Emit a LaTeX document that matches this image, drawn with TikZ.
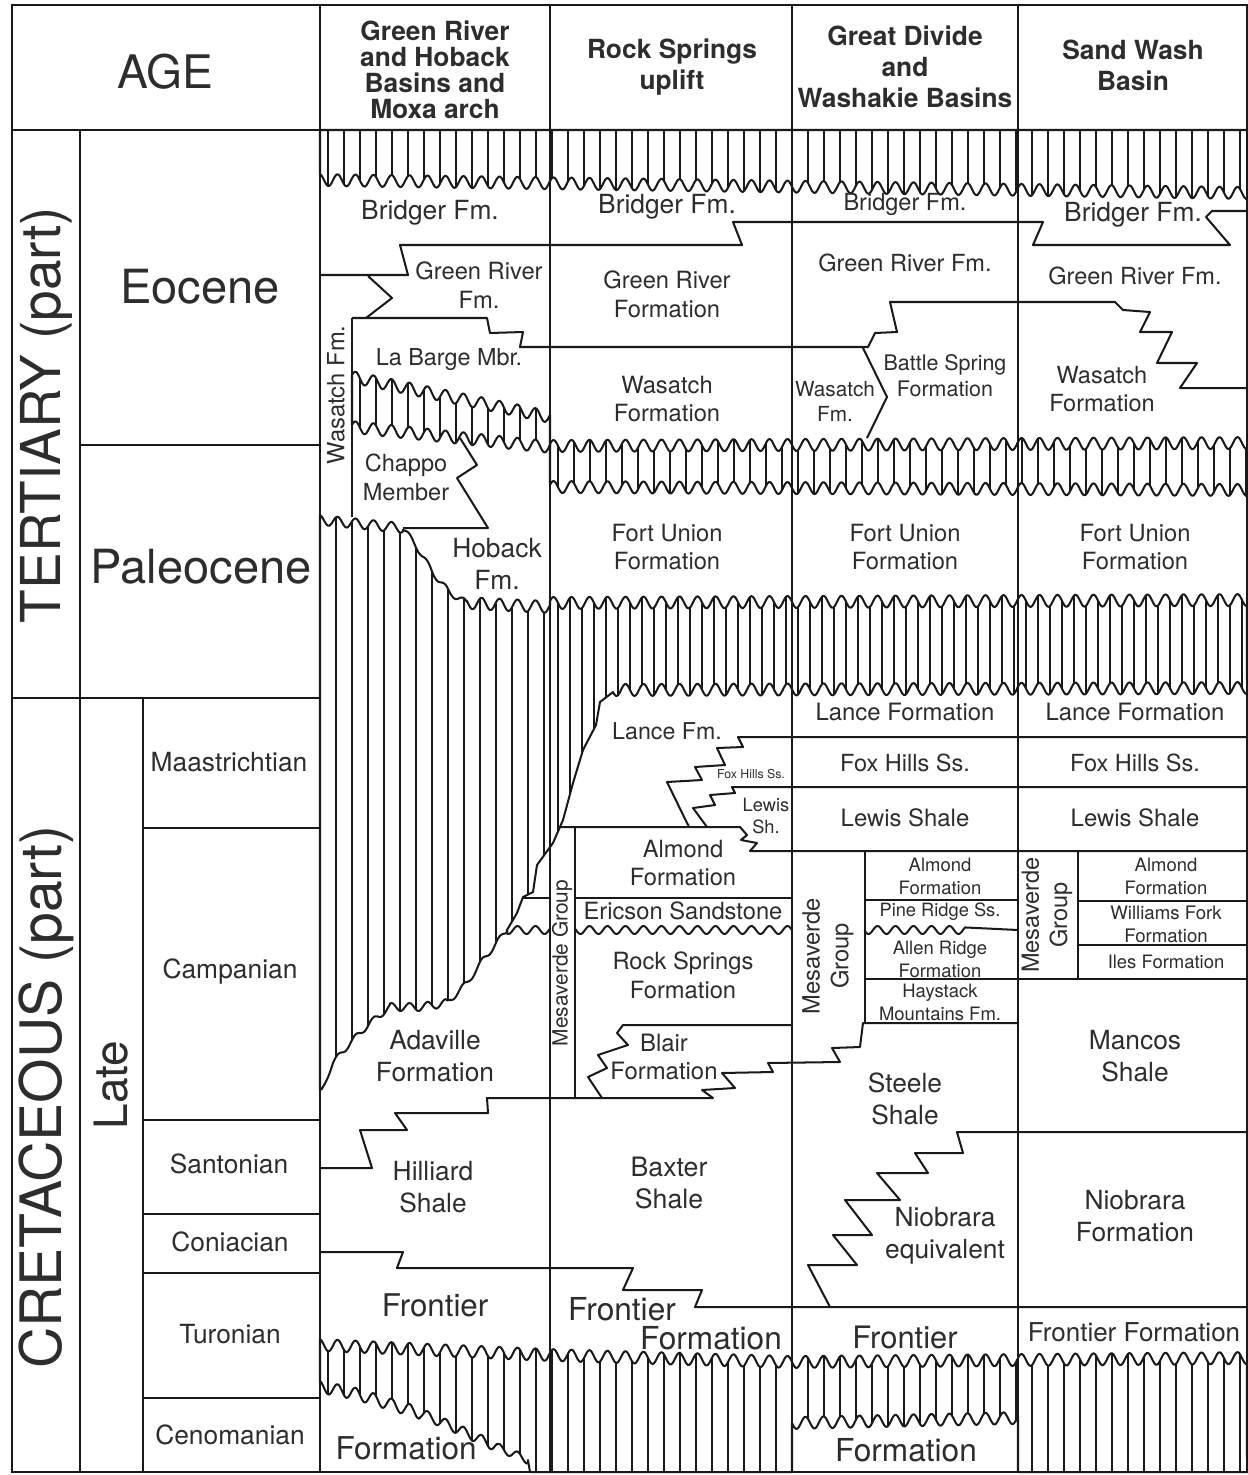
\documentclass[tikz,border=0pt]{standalone}
\usepackage{fontspec}
\setmainfont{TeX Gyre Heros}
\definecolor{ink}{RGB}{25,25,25}
\definecolor{txtc}{RGB}{45,45,45}
\newcommand\fs[2]{\fontsize{#1}{#2}\selectfont}
% wavy segment: x1 y1 x2 y2 samples amplitude
\newcommand\wv[6]{-- plot[domain=#1:#3,samples=#5] (\x,{#2+(#4-#2)*((\x-#1)/(#3-#1))+#6*sin(20*mod(\x,18))})}
\tikzset{
  ln/.style={draw=ink, line width=1.15pt, line join=round},
  lnb/.style={draw=ink, line width=1.5pt},
  hatch/.style={draw=ink, line width=0.95pt},
  txt/.style={align=center, inner sep=0pt, text=txtc},
}
\newcommand\regA{(320,130) -- (1247,130) -- (1247,193) \wv{1247}{193}{320}{180}{700}{6} -- cycle}
\newcommand\regB{(352,377) \wv{352}{377}{550}{417}{150}{6} -- (550,447) \wv{550}{447}{352}{427}{150}{6} -- cycle}
\newcommand\regC{(550,446) \wv{550}{446}{1247}{443}{520}{6} -- (1247,490) \wv{1247}{490}{550}{487}{520}{6} -- cycle}
\newcommand\regD{(320,520) \wv{320}{520}{403}{528}{64}{5} \wv{403}{528}{417}{547}{14}{3} \wv{417}{547}{433}{573}{14}{3} \wv{433}{573}{450}{593}{14}{3} \wv{450}{593}{467}{603}{14}{3} \wv{467}{603}{550}{607}{64}{6} \wv{550}{603}{1247}{600}{520}{6} -- (1247,688) \wv{1247}{688}{613}{690}{480}{6} -- (600,702) -- (596,725) -- (583,750) -- (573,783) -- (563,820) -- (553,843) -- (537,865) -- (533,892) -- (523,897) -- (517,913) -- (507,930) \wv{507}{930}{483}{960}{20}{3} \wv{483}{960}{467}{983}{14}{3} \wv{467}{983}{447}{1003}{16}{3} \wv{447}{1003}{420}{1007}{22}{4} \wv{420}{1007}{390}{1007}{24}{4} \wv{390}{1007}{370}{1023}{16}{3} \wv{370}{1023}{350}{1043}{16}{3} \wv{350}{1043}{333}{1063}{14}{3} \wv{333}{1063}{322}{1090}{10}{2} -- (320,1090) -- cycle}
\newcommand\regE{(320,1345) \wv{320}{1345}{550}{1355}{175}{6} \wv{550}{1355}{792}{1362}{185}{6} \wv{792}{1362}{1247}{1358}{345}{6} -- (1247,1472) -- (1018,1472) -- (1018,1418) \wv{1018}{1418}{792}{1423}{175}{6} -- (792,1472) -- (530,1472) -- (528,1460) \wv{528}{1460}{497}{1447}{26}{4} \wv{497}{1447}{453}{1427}{36}{5} \wv{453}{1427}{420}{1413}{27}{5} \wv{420}{1413}{353}{1393}{52}{6} \wv{353}{1393}{320}{1387}{27}{6} -- cycle}
\begin{document}
\begin{tikzpicture}[x=0.02cm,y=-0.02cm]
\useasboundingbox (0,0) rectangle (1248,1475);
\fill[white] (0,0) rectangle (1248,1475);

% ---------- hatched unconformities ----------
\begin{scope}\clip \regA;
\foreach \x in {328,344,...,1247} \draw[hatch] (\x,125) -- (\x,210);
\end{scope}
\begin{scope}\clip \regB;
\foreach \x in {360,376,...,550} \draw[hatch] (\x,360) -- (\x,460);
\end{scope}
\begin{scope}\clip \regC;
\foreach \x in {558,574,...,1247} \draw[hatch] (\x,430) -- (\x,500);
\end{scope}
\begin{scope}\clip \regD;
\foreach \x in {336,352,...,550} \draw[hatch] (\x,505) -- (\x,1100);
\foreach \x in {558,570,...,1247} \draw[hatch] (\x,590) -- (\x,880);
\end{scope}
\begin{scope}\clip \regE;
\foreach \x in {328,344,...,1247} \draw[hatch] (\x,1330) -- (\x,1475);
\end{scope}
\draw[ln] \regA; \draw[ln] \regB; \draw[ln] \regC; \draw[ln] \regD; \draw[ln] \regE;

% ---------- grid ----------
\draw[lnb] (12,5) rectangle (1247,1472);
\draw[ln] (12,130) -- (1247,130);
\foreach \x in {320,550,792,1018} \draw[ln] (\x,5) -- (\x,1472);
\draw[ln] (80,130) -- (80,1472);
\draw[ln] (143,698) -- (143,1472);
\draw[ln] (80,445) -- (320,445);
\draw[ln] (12,698) -- (320,698);
\foreach \y in {828,1120,1214,1273,1398} \draw[ln] (143,\y) -- (320,\y);

% ---------- formation contacts ----------
\draw[ln] (320,275) -- (408,275) -- (400,245) -- (742,245) -- (733,222) -- (1043,222) -- (1033,245) -- (1230,245) -- (1206,217) -- (1212,211) -- (1247,211);
\draw[ln] (368,276) -- (392,298) -- (366,318);
\draw[ln] (352,318) -- (487,318) -- (490,333) -- (523,332) -- (520,347) -- (868,347) -- (875,333) -- (897,332) -- (890,302) -- (1115,302) -- (1123,310) -- (1150,312) -- (1140,332) -- (1172,332) -- (1157,363) -- (1197,363) -- (1180,388) -- (1247,388);
\draw[ln] (352,318) -- (352,517);
\draw[ln] (863,348) -- (887,397) -- (867,438);
\draw[ln] (403,528) -- (488,528) -- (457,478) -- (477,465) -- (460,438);
\draw[ln] (1247,737) -- (738,737) -- (743,747) -- (717,748) -- (725,765) -- (695,767) -- (702,780) -- (667,782) -- (689,827);
\draw[ln] (1247,787) -- (732,787) -- (735,793) -- (710,795) -- (715,805) -- (693,808) -- (707,827);
\draw[ln] (560,827) -- (740,827) -- (747,835) -- (741,840) -- (757,843) -- (750,851) -- (1247,851);
\draw[ln] (575,827) -- (575,1098);
\draw[ln] (523,898) -- (550,898);
\draw[ln] (575,898) -- (792,898);
\draw[ln] (507,930) \wv{507}{930}{550}{930}{36}{4};
\draw[ln] (575,930) \wv{575}{930}{792}{930}{165}{4};
\draw[ln] (792,1025) -- (623,1025) -- (617,1033) -- (628,1045) -- (598,1055) -- (607,1068) -- (588,1077) -- (602,1098);
\draw[ln] (320,1168) -- (372,1168) -- (360,1130) -- (407,1130) -- (395,1113) -- (488,1113) -- (487,1098) -- (713,1098) -- (702,1090) -- (735,1088) -- (722,1073) -- (773,1072) -- (768,1063) -- (840,1062) -- (832,1048) -- (860,1047) -- (863,1023) -- (1018,1023);
\draw[ln] (865,851) -- (865,1023);
\draw[ln] (1078,851) -- (1078,979);
\draw[ln] (865,900) -- (1018,900);
\draw[ln] (865,979) -- (1247,979);
\draw[ln] (1078,901) -- (1247,901);
\draw[ln] (1078,945) -- (1247,945);
\draw[ln] (865,930) \wv{865}{930}{965}{930}{80}{4} -- (1018,930);
\draw[ln] (1247,1132) -- (957,1132) -- (963,1153) -- (915,1153) -- (928,1173) -- (877,1173) -- (900,1200) -- (845,1200) -- (872,1235) -- (833,1235) -- (857,1265) -- (808,1265) -- (830,1307);
\draw[ln] (320,1252) -- (403,1252) -- (397,1268) -- (633,1268) -- (623,1290) -- (702,1290) -- (695,1307) -- (1247,1307);

% ---------- header ----------
\node[txt,font=\fs{26.3}{30}] (age) at (165,72) {AGE};
\node[txt,font=\bfseries\fs{15}{14.8}] (h1) at (435,70) {Green River\\and Hoback\\Basins and\\Moxa arch};
\node[txt,font=\bfseries\fs{15}{18}] (h2) at (672,67) {Rock Springs\\uplift};
\node[txt,font=\bfseries\fs{15}{17.6}] (h3) at (905,67) {Great Divide\\and\\Washakie Basins};
\node[txt,font=\bfseries\fs{15}{17.6}] (h4) at (1133,65) {Sand Wash\\Basin};

% ---------- age column ----------
\node[txt,font=\fs{31.3}{36},rotate=90] (tert) at (46,415) {TERTIARY (part)};
\node[txt,font=\fs{32.5}{36},rotate=90] (cret) at (46,1097) {CRETACEOUS (part)};
\node[txt,font=\fs{26.8}{30}] (eoc) at (200,287) {Eocene};
\node[txt,font=\fs{26.8}{30}] (pal) at (201,567) {Paleocene};
\node[txt,font=\fs{26.2}{30},rotate=90] (late) at (111,1085) {Late};
\node[txt,font=\fs{15}{18}] (maa) at (229,762) {Maastrichtian};
\node[txt,font=\fs{15}{18}] (cam) at (230,972) {Campanian};
\node[txt,font=\fs{15}{18}] (san) at (229,1164) {Santonian};
\node[txt,font=\fs{15}{18}] (con) at (230,1242) {Coniacian};
\node[txt,font=\fs{15}{18}] (tur) at (230,1334) {Turonian};
\node[txt,font=\fs{15}{18}] (cen) at (230,1435) {Cenomanian};

% ---------- column 1 ----------
\node[txt,font=\fs{15}{18}] (c1bri) at (430,213) {Bridger Fm.};
\node[txt,font=\fs{13.5}{16.4}] (c1gr) at (479,285) {Green River\\Fm.};
\node[txt,font=\fs{13.3}{16}] (c1lb) at (449,360) {La Barge Mbr.};
\node[txt,font=\fs{13.5}{16},rotate=90] (c1was) at (336,395) {Wasatch Fm.};
\node[txt,font=\fs{13.4}{16.4}] (c1cha) at (406,477) {Chappo\\Member};
\node[txt,font=\fs{15}{18}] (c1hob) at (497,564) {Hoback\\Fm.};
\node[txt,font=\fs{15}{18}] (c1ada) at (435,1056) {Adaville\\Formation};
\node[txt,font=\fs{15}{18}] (c1hil) at (433,1187) {Hilliard\\Shale};
\node[txt,font=\fs{17.8}{20}] (c1fro) at (435,1305) {Frontier};
\node[txt,font=\fs{17.9}{20}] (c1for) at (406,1448) {Formation};

% ---------- column 2 ----------
\node[txt,font=\fs{15}{18}] (c2bri) at (667,207) {Bridger Fm.};
\node[txt,font=\fs{13.5}{16.4}] (c2gr) at (667,294) {Green River\\Formation};
\node[txt,font=\fs{13.5}{16.4}] (c2was) at (667,399) {Wasatch\\Formation};
\node[txt,font=\fs{13.5}{16.4}] (c2fu) at (667,547) {Fort Union\\Formation};
\node[txt,font=\fs{13.2}{16}] (c2lan) at (667,731) {Lance Fm.};
\node[txt,font=\fs{7}{8}] (c2fh) at (751,774) {Fox Hills Ss.};
\node[txt,font=\fs{10.4}{13}] (c2lew) at (766,816) {Lewis\\Sh.};
\node[txt,font=\fs{13.5}{16.4}] (c2alm) at (683,863) {Almond\\Formation};
\node[txt,font=\fs{13.5}{16.4}] (c2eri) at (683,911) {Ericson Sandstone};
\node[txt,font=\fs{13.5}{16.4}] (c2rs) at (683,975) {Rock Springs\\Formation};
\node[txt,font=\fs{13.6}{16.4}] (c2bla) at (664,1057) {Blair\\Formation};
\node[txt,font=\fs{11.9}{14},rotate=90] (c2mv) at (562,963) {Mesaverde Group};
\node[txt,font=\fs{15.2}{18}] (c2bax) at (669,1183) {Baxter\\Shale};
\node[txt,font=\fs{18}{20}] (c2fro) at (622,1309) {Frontier};
\node[txt,font=\fs{18}{20}] (c2for) at (711,1338) {Formation};

% ---------- column 3 ----------
\node[txt,font=\fs{13.4}{16}] (c3bri) at (905,204) {Bridger Fm.};
\node[txt,font=\fs{13.4}{16}] (c3gr) at (905,263) {Green River Fm.};
\node[txt,font=\fs{12.2}{14.7}] (c3bs) at (945,376) {Battle Spring\\Formation};
\node[txt,font=\fs{11.8}{14.2}] (c3was) at (835,401) {Wasatch\\Fm.};
\node[txt,font=\fs{13.5}{16.4}] (c3fu) at (905,547) {Fort Union\\Formation};
\node[txt,font=\fs{13.6}{16}] (c3lan) at (905,712) {Lance Formation};
\node[txt,font=\fs{13.4}{16}] (c3fh) at (905,763) {Fox Hills Ss.};
\node[txt,font=\fs{13.6}{16}] (c3lew) at (905,818) {Lewis Shale};
\node[txt,font=\fs{13.5}{16.4},rotate=90] (c3mv) at (828,956) {Mesaverde\\Group};
\node[txt,font=\fs{10.5}{13}] (c3alm) at (940,876) {Almond\\Formation};
\node[txt,font=\fs{10.4}{13}] (c3pr) at (940,912) {Pine Ridge Ss.};
\node[txt,font=\fs{10.5}{13}] (c3ar) at (940,959) {Allen Ridge\\Formation};
\node[txt,font=\fs{10.5}{13}] (c3hay) at (940,1002) {Haystack\\Mountains Fm.};
\node[txt,font=\fs{15}{18}] (c3ste) at (905,1099) {Steele\\Shale};
\node[txt,font=\fs{15}{18}] (c3nio) at (945,1236) {Niobrara\\equivalent};
\node[txt,font=\fs{17.6}{20}] (c3fro) at (905,1337) {Frontier};
\node[txt,font=\fs{18}{20}] (c3for) at (906,1450) {Formation};

% ---------- column 4 ----------
\node[txt,font=\fs{15}{18}] (c4bri) at (1133,215) {Bridger Fm.};
\node[txt,font=\fs{13.4}{16}] (c4gr) at (1135,276) {Green River Fm.};
\node[txt,font=\fs{13.4}{16.4}] (c4was) at (1102,389) {Wasatch\\Formation};
\node[txt,font=\fs{13.5}{16.4}] (c4fu) at (1135,547) {Fort Union\\Formation};
\node[txt,font=\fs{13.6}{16}] (c4lan) at (1135,712) {Lance Formation};
\node[txt,font=\fs{13.4}{16}] (c4fh) at (1135,763) {Fox Hills Ss.};
\node[txt,font=\fs{13.6}{16}] (c4lew) at (1135,818) {Lewis Shale};
\node[txt,font=\fs{13.4}{16},rotate=90] (c4mv) at (1047,915) {Mesaverde\\Group};
\node[txt,font=\fs{10.5}{13}] (c4alm) at (1166,876) {Almond\\Formation};
\node[txt,font=\fs{10.6}{13}] (c4wf) at (1166,924) {Williams Fork\\Formation};
\node[txt,font=\fs{10.5}{13}] (c4iles) at (1166,962) {Iles Formation};
\node[txt,font=\fs{15}{18}] (c4man) at (1135,1056) {Mancos\\Shale};
\node[txt,font=\fs{15}{18}] (c4nio) at (1135,1216) {Niobrara\\Formation};
\node[txt,font=\fs{14.8}{18}] (c4fro) at (1134,1332) {Frontier Formation};
\end{tikzpicture}
\end{document}
